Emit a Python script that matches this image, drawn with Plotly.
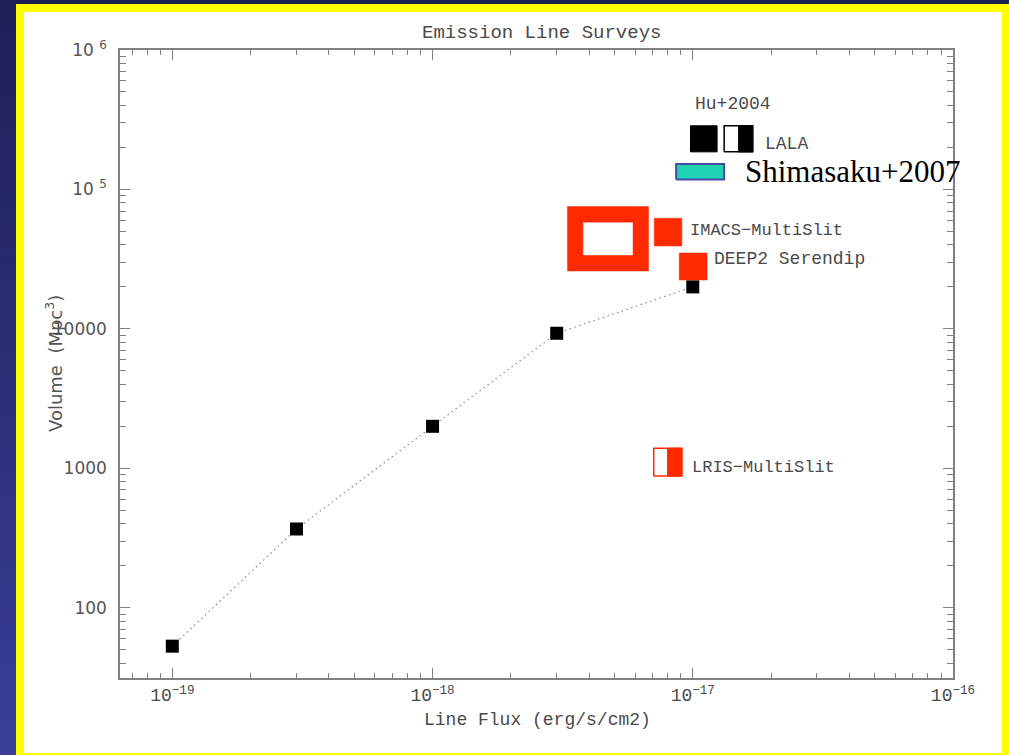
import plotly.graph_objects as go

# ---------------- data ----------------
flux_pts = [1e-19, 3e-19, 1e-18, 3e-18, 1e-17]
vol_pts = [53, 367, 2000, 9300, 20000]

# survey boxes: [flux_lo, flux_hi], [vol_lo, vol_hi]
hu_full_flux = [9.8e-18, 1.24e-17]
hu_full_vol = [1.86e5, 2.86e5]
hu_half_flux = [1.32e-17, 1.50e-17, 1.70e-17]   # lo, split, hi
hu_half_vol = [1.86e5, 2.86e5]
shim_flux = [8.63e-18, 1.32e-17]
shim_vol = [1.18e5, 1.52e5]
imacs_wide_outer_flux = [3.30e-18, 6.76e-18]
imacs_wide_outer_vol = [2.60e4, 7.53e4]
imacs_wide_inner_flux = [3.80e-18, 5.87e-18]
imacs_wide_inner_vol = [3.39e4, 5.78e4]
imacs_flux = [7.11e-18, 9.08e-18]
imacs_vol = [3.93e4, 6.21e4]
deep2_flux = [8.87e-18, 1.135e-17]
deep2_vol = [2.24e4, 3.50e4]
lris_flux = [7.08e-18, 8.0e-18, 9.08e-18]      # lo, split, hi
lris_vol = [881, 1390]

x_tickvals = [1e-19, 1e-18, 1e-17, 1e-16]
x_ticktext = ["10<sup>−19</sup>", "10<sup>−18</sup>", "10<sup>−17</sup>", "10<sup>−16</sup>"]
y_tickvals = [100, 1000, 10000, 1e5, 1e6]
y_ticktext = ["100", "1000", "10000", "10 <sup>5</sup>", "10 <sup>6</sup>"]

RED = "#ff2a00"
TXT = "#4a4a4a"
AX = "#808080"
LBL_FONT = "Liberation Mono"

W, H = 1009, 755
L, R, T, B = 120, 953, 50, 678


def px(p):
    return (p - L) / (R - L)


def py(p):
    return (B - p) / (B - T)


fig = go.Figure()


def rect(xr, yr, fill, line_color=None, lw=0):
    x0, x1 = xr
    y0, y1 = yr
    fig.add_trace(go.Scatter(
        x=[x0, x1, x1, x0, x0], y=[y0, y0, y1, y1, y0],
        mode="lines", fill="toself", fillcolor=fill,
        line=dict(color=line_color or fill, width=lw),
        hoverinfo="skip", showlegend=False))


# Hu+2004 boxes
rect(hu_full_flux, hu_full_vol, "black", "black", 1)
rect([hu_half_flux[0], hu_half_flux[2]], hu_half_vol, "white", "black", 1.5)
rect([hu_half_flux[1], hu_half_flux[2]], hu_half_vol, "black", "black", 1)
# Shimasaku
rect(shim_flux, shim_vol, "#1ed2b2", "#4848a8", 2)
# IMACS wide (hollow thick)
rect(imacs_wide_outer_flux, imacs_wide_outer_vol, RED, RED, 0.5)
rect(imacs_wide_inner_flux, imacs_wide_inner_vol, "white", "white", 0.5)
# IMACS multislit
rect(imacs_flux, imacs_vol, RED, RED, 0.5)
# DEEP2
rect(deep2_flux, deep2_vol, RED, RED, 0.5)
# LRIS
rect([lris_flux[0], lris_flux[2]], lris_vol, "white", RED, 1.5)
rect([lris_flux[1], lris_flux[2]], lris_vol, RED, RED, 1)

# dotted line with squares
fig.add_trace(go.Scatter(
    x=flux_pts, y=vol_pts, mode="lines+markers",
    line=dict(color="#8a8a8a", width=1.2, dash="1.5px,3.5px"),
    marker=dict(symbol="square", size=13, color="black"),
    hoverinfo="skip", showlegend=False))

# ---------------- background frame ----------------
shapes = []
shapes.append(dict(type="rect", xref="paper", yref="paper", layer="below",
                   x0=px(24), x1=px(1002), y0=py(753), y1=py(12),
                   fillcolor="white", line=dict(width=0)))
c0 = (30, 32, 85)
c1 = (58, 62, 152)
n = 40
for i in range(n):
    t = (i + 0.5) / n
    col = "rgb(%d,%d,%d)" % tuple(round(a + (b - a) * t) for a, b in zip(c0, c1))
    shapes.append(dict(type="rect", xref="paper", yref="paper", layer="below",
                       x0=px(0), x1=px(16), y0=py(H * (i + 1) / n + 0.5), y1=py(H * i / n - 0.5),
                       fillcolor=col, line=dict(width=0)))
shapes.append(dict(type="rect", xref="paper", yref="paper", layer="below",
                   x0=px(0), x1=px(W), y0=py(4), y1=py(0),
                   fillcolor="rgb(30,32,85)", line=dict(width=0)))

# ---------------- annotations ----------------
ann = []


def lab(text, x, y, size=18, font=LBL_FONT, color=TXT, xanchor="left"):
    ann.append(dict(text=text, x=x, y=y, xref="x", yref="y", showarrow=False,
                    xanchor=xanchor, yanchor="middle",
                    font=dict(family=font, size=size, color=color)))


lab("Hu+2004", -16.998, 5.613, size=18)
lab("LALA", -16.729, 5.326, size=18)
lab("Shimasaku+2007", -16.806, 5.126, size=31, font="Liberation Serif", color="black")
lab("IMACS−MultiSlit", -17.017, 4.702, size=17)
lab("DEEP2 Serendip", -16.925, 4.501, size=18)
lab("LRIS−MultiSlit", -17.010, 3.009, size=17)

ann.append(dict(text="Emission Line Surveys", x=px(541.5), y=py(33), xref="paper", yref="paper",
                showarrow=False, xanchor="center", yanchor="middle",
                font=dict(family=LBL_FONT, size=19, color=TXT)))
ann.append(dict(text="Line Flux (erg/s/cm2)", x=px(537.7), y=py(720), xref="paper", yref="paper",
                showarrow=False, xanchor="center", yanchor="middle",
                font=dict(family=LBL_FONT, size=18, color=TXT)))
ann.append(dict(text="Volume  (Mpc<sup>3</sup>)", x=px(54), y=py(364), xref="paper", yref="paper",
                showarrow=False, xanchor="center", yanchor="middle", textangle=-90,
                font=dict(family="DejaVu Sans", size=18, color="#555555")))

fig.update_layout(
    width=W, height=H,
    margin=dict(l=L, r=W - R, t=T, b=H - B, pad=0),
    paper_bgcolor="#ffff00", plot_bgcolor="white",
    shapes=shapes, annotations=ann, showlegend=False,
)
fig.update_xaxes(
    type="log", range=[-19.201, -16.0], showgrid=False, zeroline=False,
    showline=True, linecolor=AX, linewidth=1.5, mirror="ticks",
    ticks="inside", ticklen=10, tickwidth=1.2, tickcolor=AX,
    tickvals=x_tickvals, ticktext=x_ticktext,
    tickfont=dict(family=LBL_FONT, size=18, color=TXT),
    minor=dict(ticks="inside", ticklen=5, tickwidth=1, tickcolor=AX, dtick="D1", showgrid=False),
)
fig.update_yaxes(
    type="log", range=[1.496, 6.0], showgrid=False, zeroline=False,
    showline=True, linecolor=AX, linewidth=1.5, mirror="ticks",
    ticks="inside", ticklen=10, tickwidth=1.2, tickcolor=AX,
    tickvals=y_tickvals, ticktext=y_ticktext,
    tickfont=dict(family="DejaVu Sans", size=17, color="#555555"),
    ticklabelstandoff=8,
    minor=dict(ticks="inside", ticklen=6, tickwidth=1, tickcolor=AX, dtick="D1", showgrid=False),
)

fig.write_html("out.html")
